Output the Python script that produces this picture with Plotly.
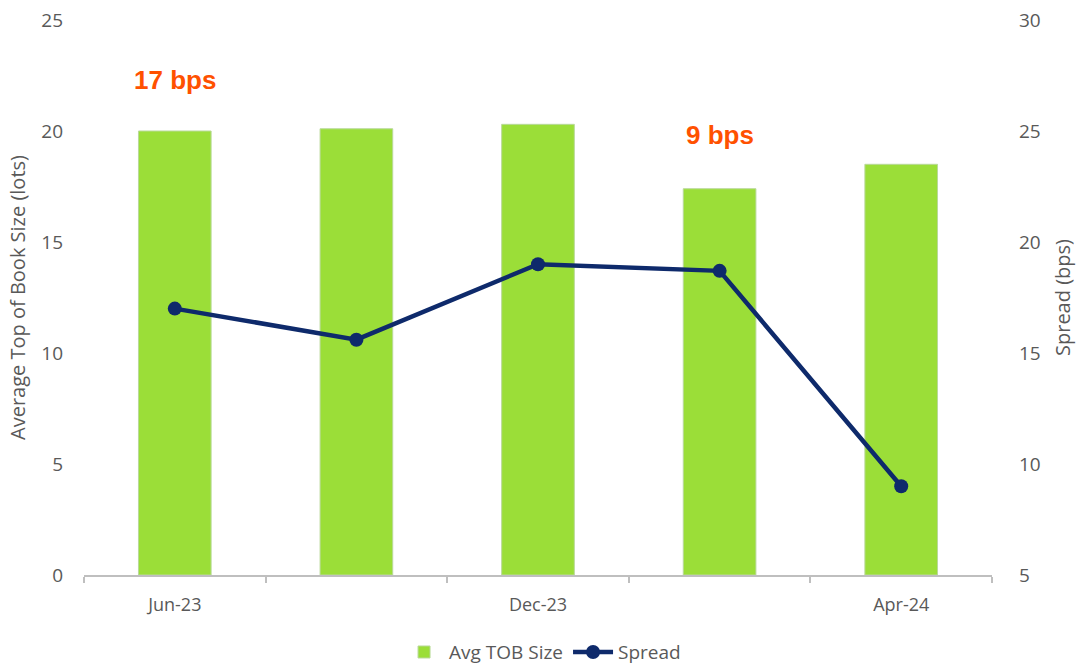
import plotly.graph_objects as go

# Monthly snapshots (only every other label is shown on the axis)
months = ["Jun-23", "Sep-23", "Dec-23", "Feb-24", "Apr-24"]
avg_tob_size = [20.0, 20.1, 20.3, 17.4, 18.5]   # lots
spread_bps = [17.0, 15.6, 19.0, 18.7, 9.0]      # bps
label_months = ["Jun-23", "Dec-23", "Apr-24"]

x_pos = list(range(len(months)))
label_pos = [months.index(m) for m in label_months]

GREY = "#595959"
FONT = "Open Sans, Noto Sans, sans-serif"
BAR_GREEN = "#9BDE38"
NAVY = "#0E2A6B"
ORANGE = "#FF5100"

fig = go.Figure()
fig.add_trace(go.Bar(
    x=x_pos, y=avg_tob_size, name="Avg TOB Size",
    marker=dict(color=BAR_GREEN, line=dict(color="#b9d99a", width=1)),
    width=0.4, yaxis="y",
))
fig.add_trace(go.Scatter(
    x=x_pos, y=spread_bps, name="Spread", mode="lines+markers",
    line=dict(color=NAVY, width=4.5), marker=dict(color=NAVY, size=14),
    yaxis="y2",
))

# Callouts for the first and last spread readings
fig.add_annotation(x=x_pos[0], y=22.3, xref="x", yref="y",
                   text=f"{spread_bps[0]:.0f} bps", showarrow=False,
                   font=dict(family="Arial, Liberation Sans", size=26, color=ORANGE, weight="bold"))
fig.add_annotation(x=x_pos[3], y=19.8, xref="x", yref="y",
                   text=f"{spread_bps[-1]:.0f} bps", showarrow=False,
                   font=dict(family="Arial, Liberation Sans", size=26, color=ORANGE, weight="bold"))

fig.update_layout(
    width=1079, height=668,
    margin=dict(l=84, r=87, t=20, b=93, autoexpand=False),
    plot_bgcolor="white", paper_bgcolor="white",
    font=dict(family=FONT, color=GREY, size=18),
    bargap=0.6,
    xaxis=dict(
        range=[-0.5, len(months) - 0.5], automargin=False,
        tickmode="array", tickvals=label_pos, ticktext=label_months,
        ticks="", showgrid=False, zeroline=False,
        showline=True, linecolor="#BFBFBF", linewidth=2,
        tickfont=dict(size=18, color=GREY), ticklabelstandoff=12,
        minor=dict(tickmode="array", tickvals=[p - 0.5 for p in x_pos] + [len(months) - 0.5],
                   ticks="outside", ticklen=6, tickcolor="#BFBFBF", tickwidth=2),
    ),
    yaxis=dict(
        range=[0, 25], dtick=5, showgrid=False, zeroline=False, showline=False,
        automargin=False,
        title=dict(text="Average Top of Book Size (lots)", font=dict(size=20, color=GREY), standoff=10),
        tickfont=dict(size=19, color=GREY), ticklabelstandoff=20,
    ),
    yaxis2=dict(
        range=[5, 30], dtick=5, overlaying="y", side="right",
        showgrid=False, zeroline=False, showline=False, automargin=False,
        title=dict(text="Spread (bps)", font=dict(size=20, color=GREY), standoff=16),
        tickfont=dict(size=19, color=GREY), ticklabelstandoff=26,
    ),
    legend=dict(orientation="h", x=0.505, xanchor="center", y=-0.139, yanchor="middle",
                font=dict(size=19, color=GREY), traceorder="normal", itemwidth=40),
    showlegend=True,
)

fig.write_html("out.html")
